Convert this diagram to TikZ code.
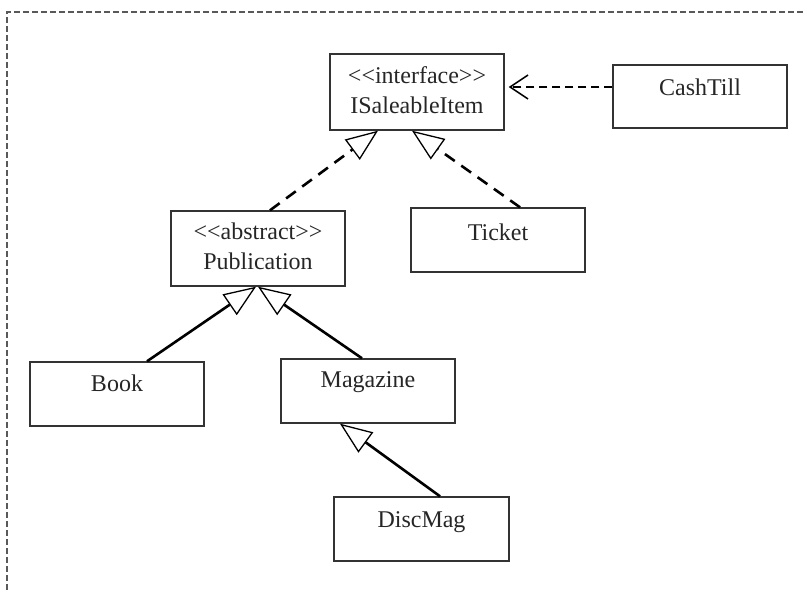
\documentclass[tikz,border=0pt]{standalone}
\usepackage{fontspec}
\setmainfont{Liberation Serif}
\usetikzlibrary{arrows.meta}
\begin{document}
\begin{tikzpicture}[x=1pt,y=-1pt,
  classbox/.style={draw=black!80, line width=1.4pt, minimum width=174pt, minimum height=64pt, inner sep=0pt},
  txt/.style={font=\fontsize{24}{30}\selectfont, align=center, inner sep=0pt, text=black!85},
  gen/.style={draw=black, line width=2.6pt, -{Triangle[length=32pt, width=25pt, fill=white, line width=1.3pt]}},
  real/.style={gen, dash pattern=on 12pt off 8pt},
  dep/.style={draw=black, line width=1.5pt, dash pattern=on 8pt off 5pt, -{Straight Barb[length=18pt, width=24pt, line width=1.5pt]}},
  border/.style={draw=black!65, line width=1.2pt, dash pattern=on 6pt off 3pt}]
\useasboundingbox (0,0) rectangle (803,590);
\draw[border] (7,590) -- (7,12) -- (803,12);

\node[classbox, minimum height=76pt] (isi) at (417,92) {};
\node[txt] (isiT) at (417,90) {<{}<interface>{}>\\ISaleableItem};
\node[classbox, minimum height=63pt] (cash) at (700,96.5) {};
\node[txt] (cashT) at (700,87) {CashTill};
\node[classbox] (ticket) at (498,240) {};
\node[txt] (ticketT) at (498,232) {Ticket};
\node[classbox, minimum height=75pt] (pub) at (258,248.5) {};
\node[txt] (pubT) at (258,246) {<{}<abstract>{}>\\Publication};
\node[classbox] (book) at (117,394) {};
\node[txt] (bookT) at (117,383) {Book};
\node[classbox] (mag) at (368,391) {};
\node[txt] (magT) at (368,382) {Magazine};
\node[classbox, minimum width=175pt] (disc) at (421.5,529) {};
\node[txt] (discT) at (421.5,522) {DiscMag};

\draw[real] ([xshift=12pt]pub.north) -- ([xshift=-39pt]isi.south);
\draw[real] ([xshift=22pt]ticket.north) -- ([xshift=-5pt]isi.south);
\draw[dep] ([yshift=9.5pt]cash.west) -- ([xshift=4pt,yshift=5pt]isi.east);
\draw[gen] ([xshift=30pt]book.north) -- ([xshift=-2pt]pub.south);
\draw[gen] ([xshift=-6pt]mag.north) -- ([xshift=0pt]pub.south);
\draw[gen] ([xshift=18.5pt]disc.north) -- ([xshift=-28pt]mag.south);
\end{tikzpicture}
\end{document}
